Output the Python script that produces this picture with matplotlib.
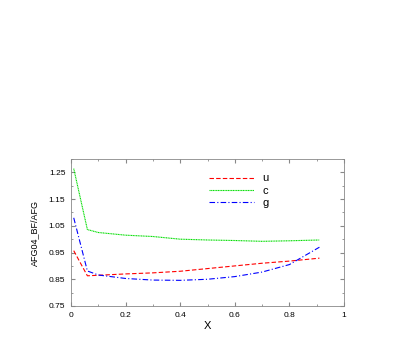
import matplotlib
matplotlib.use("Agg")
import matplotlib.pyplot as plt
from matplotlib.ticker import MultipleLocator

plt.rcParams['font.family'] = ['Liberation Sans', 'DejaVu Sans']

x = [0.01, 0.06, 0.1, 0.2, 0.3, 0.4, 0.5, 0.6, 0.7, 0.8, 0.91]
u = [0.957, 0.863, 0.865, 0.870, 0.874, 0.880, 0.890, 0.900, 0.910, 0.918, 0.929]
c = [1.264, 1.036, 1.025, 1.015, 1.010, 1.000, 0.997, 0.995, 0.992, 0.994, 0.997]
g = [1.080, 0.881, 0.866, 0.853, 0.847, 0.846, 0.850, 0.860, 0.877, 0.905, 0.970]
xticks = [0, 0.2, 0.4, 0.6, 0.8, 1]
xticklabels = ['0', '0.2', '0.4', '0.6', '0.8', '1']
yticks = [0.75, 0.85, 0.95, 1.05, 1.15, 1.25]

fig = plt.figure(figsize=(4.15, 3.46), dpi=100)
ax = fig.add_axes([71/415, 1-306/346, (344-71)/415, (306-159)/346])

ax.plot(x, u, color='#ff0000', ls=(0, (4, 2)), lw=0.8, label='u')
ax.plot(x, c, color='#00dd00', ls=(0, (1, 0.5)), lw=0.8, label='c')
ax.plot(x, g, color='#0000ff', ls=(0, (5, 2, 1, 2)), lw=0.8, label='g')

ax.set_xlim(0, 1)
ax.set_ylim(0.75, 1.30)
ax.set_xticks(xticks)
ax.set_xticklabels(xticklabels)
ax.xaxis.set_minor_locator(MultipleLocator(0.1))
ax.set_yticks(yticks)
ax.set_yticklabels([f'{v:.2f}' for v in yticks])
ax.yaxis.set_minor_locator(MultipleLocator(0.05))
ax.tick_params(which='both', direction='in', top=True, right=True, labelsize=6, color='#888888', pad=4)
ax.tick_params(which='major', length=3)
ax.tick_params(which='minor', length=1.5)
for s in ax.spines.values():
    s.set_color('#888888')
    s.set_linewidth(0.6)

ax.set_xlabel('X', fontsize=8, labelpad=2)
ax.set_ylabel('AFG04_BF/AFG', fontsize=6.5, labelpad=7)

leg = ax.legend(loc='upper left', bbox_to_anchor=(0.47, 0.97), frameon=False, fontsize=8,
                handlelength=4, markerfirst=True, labelspacing=0.2, handletextpad=0.8)

fig.savefig('out.png', dpi=100)
